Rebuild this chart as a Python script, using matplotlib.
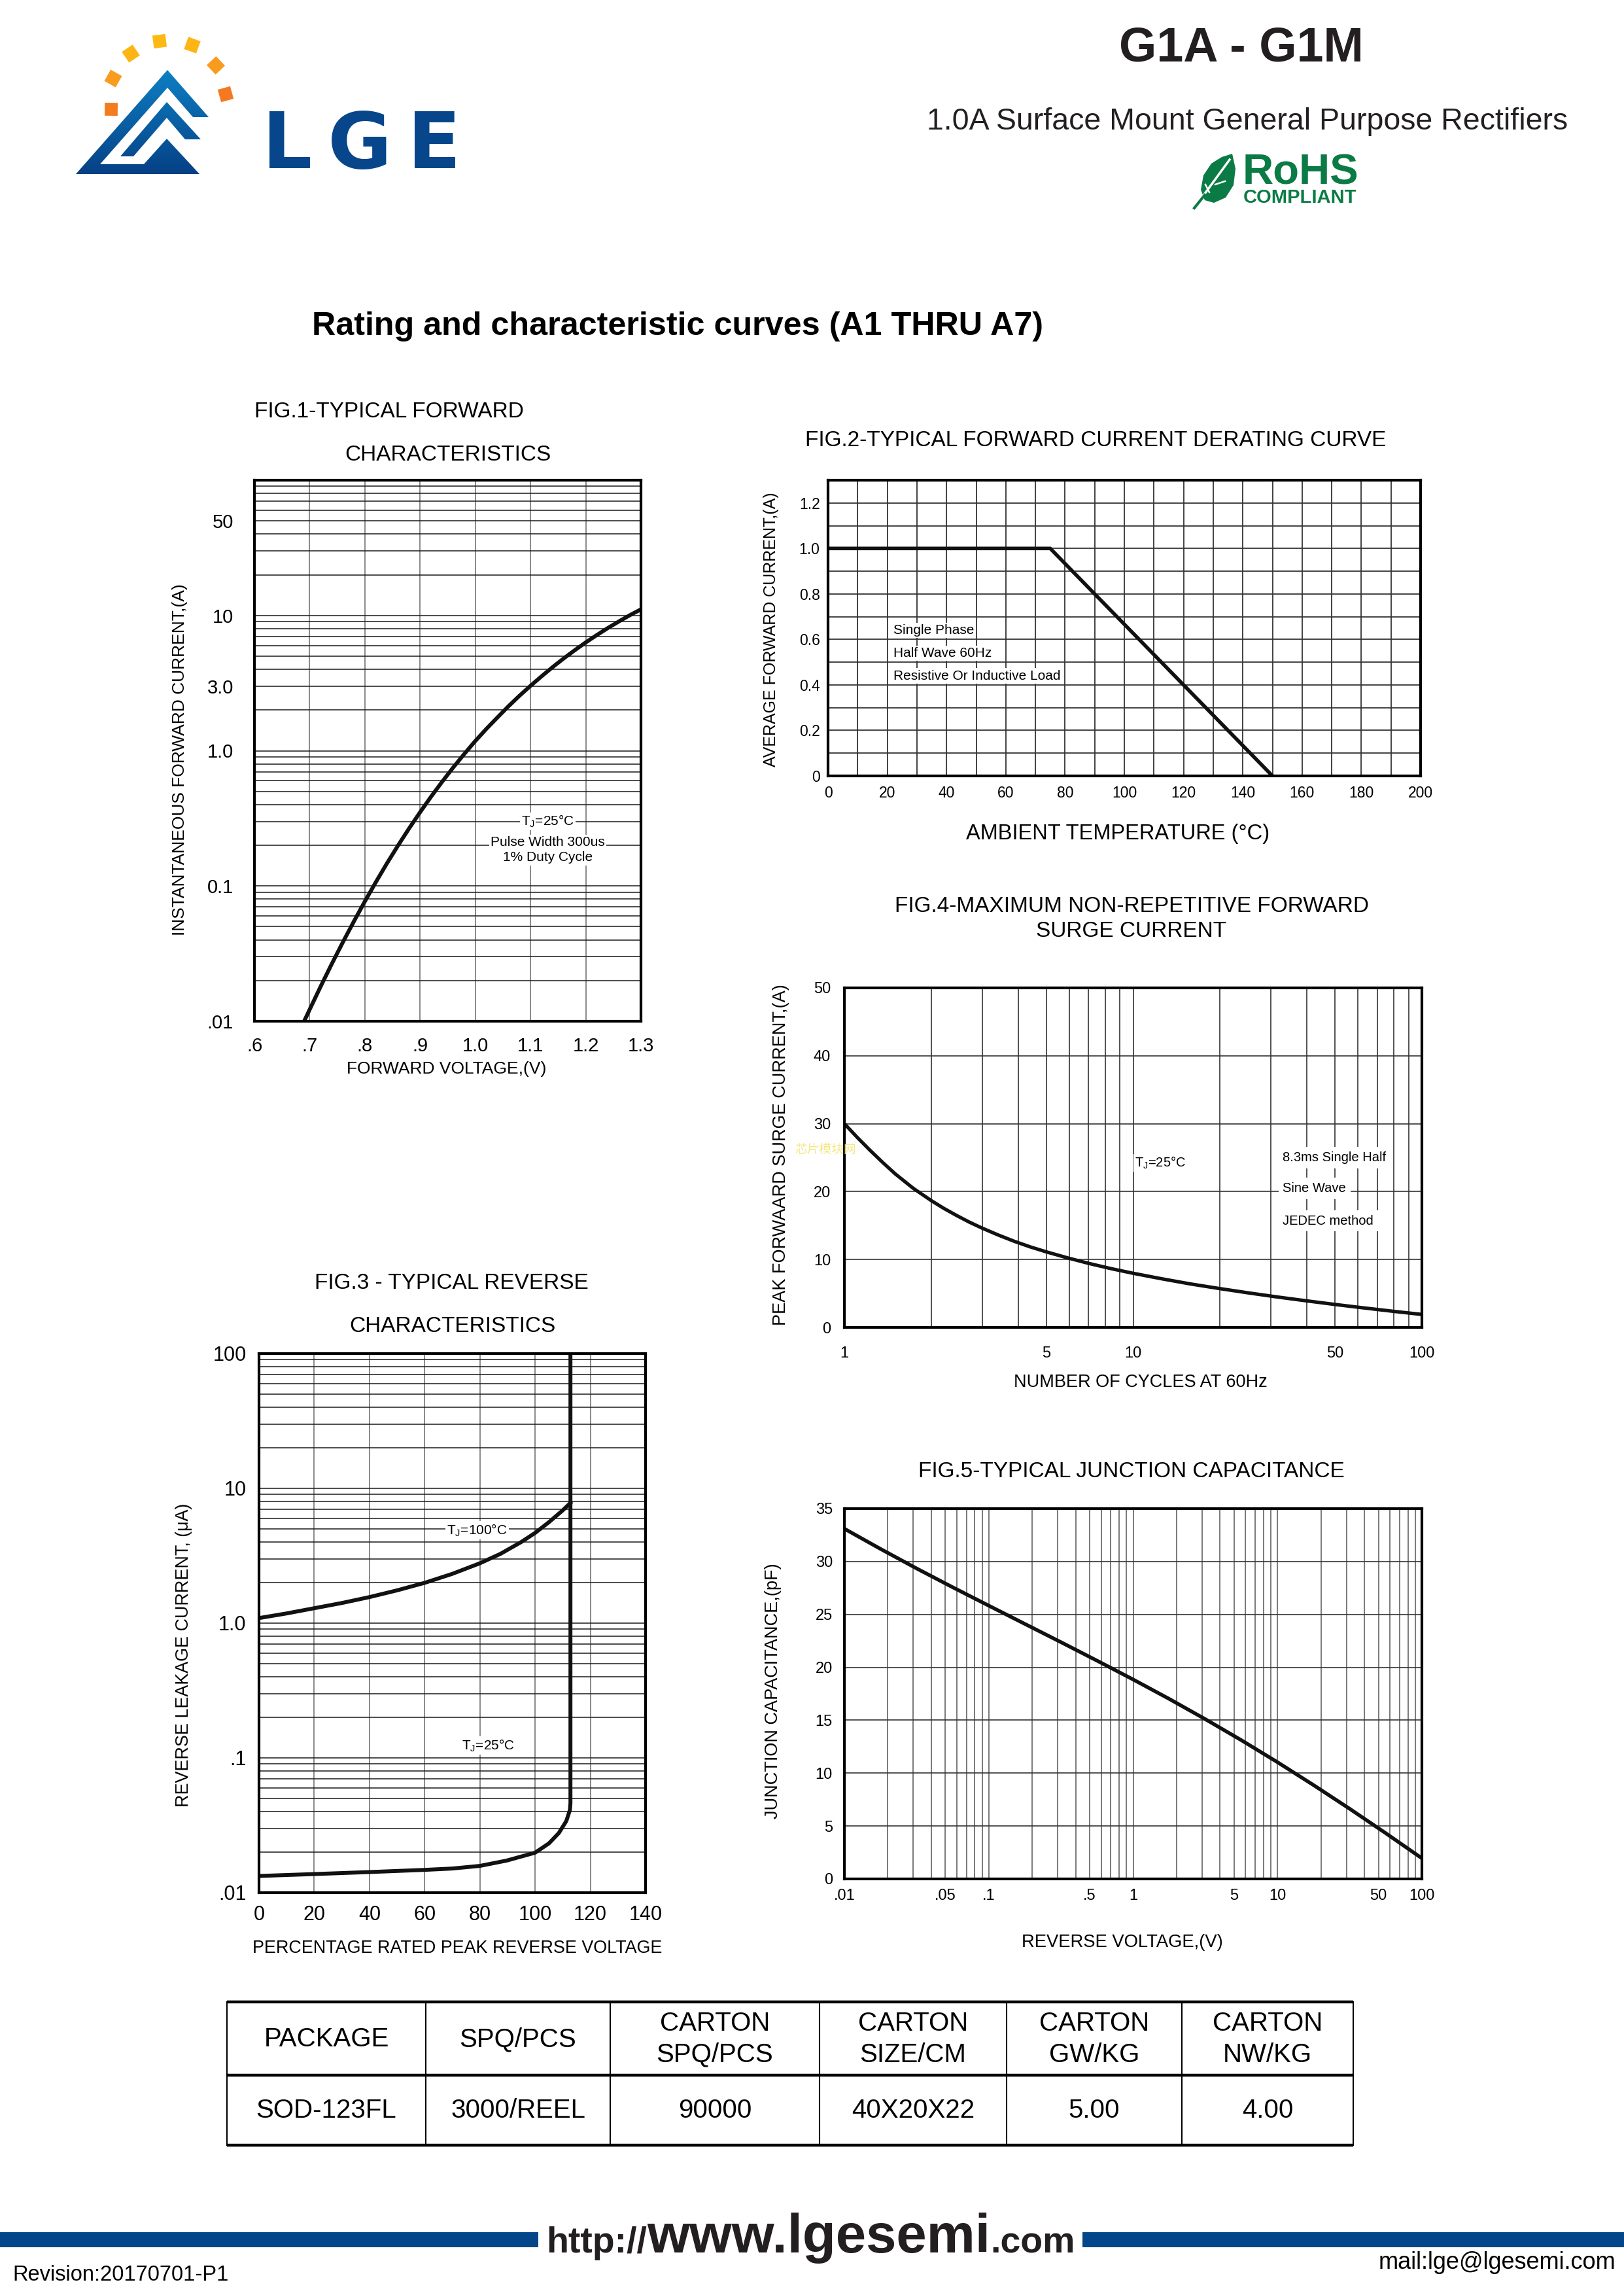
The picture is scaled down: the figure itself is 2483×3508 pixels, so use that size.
import numpy as np
import matplotlib
matplotlib.use('Agg')
import matplotlib.pyplot as plt
from matplotlib.patches import Polygon, Rectangle, RegularPolygon
from matplotlib.colors import LinearSegmentedColormap
from matplotlib.ticker import LogLocator, NullFormatter, MultipleLocator

plt.rcParams['font.family'] = ['Liberation Sans', 'DejaVu Sans']

W, H = 2483, 3508

# ---------------- data ----------------
# FIG.1 forward characteristics (V, A)
vf_volts = [0.69, 0.70, 0.72, 0.74, 0.76, 0.78, 0.80, 0.82, 0.84, 0.86, 0.88, 0.90, 0.92, 0.94, 0.96, 0.98,
            1.00, 1.02, 1.04, 1.06, 1.08, 1.10, 1.12, 1.14, 1.16, 1.18, 1.20, 1.22, 1.24, 1.26, 1.28, 1.30]
vf_amps = [0.0100, 0.0122, 0.0181, 0.0265, 0.0383, 0.0546, 0.0769, 0.107, 0.147, 0.199, 0.266, 0.351,
           0.458, 0.590, 0.752, 0.946, 1.18, 1.45, 1.76, 2.13, 2.55, 3.02, 3.55, 4.15, 4.81, 5.53,
           6.32, 7.16, 8.07, 9.03, 10.05, 11.10]
fig1_xticks = [0.6, 0.7, 0.8, 0.9, 1.0, 1.1, 1.2, 1.3]
fig1_xlabels = ['.6', '.7', '.8', '.9', '1.0', '1.1', '1.2', '1.3']
fig1_yticks = [0.01, 0.1, 1, 3, 10, 50]
fig1_ylabels = ['.01', '0.1', '1.0', '3.0', '10', '50']

# FIG.2 derating curve
derate_temp = [0, 75, 150]
derate_amps = [1.0, 1.0, 0.0]
fig2_xticks = [0, 20, 40, 60, 80, 100, 120, 140, 160, 180, 200]
fig2_yticks = [0, 0.2, 0.4, 0.6, 0.8, 1.0, 1.2]
fig2_ylabels = ['0', '0.2', '0.4', '0.6', '0.8', '1.0', '1.2']

# FIG.3 reverse characteristics (% rated voltage, uA)
rev_pct_100 = [0, 10, 20, 30, 40, 50, 60, 70, 80, 87.5, 95, 100, 105, 110, 112.8]
rev_ua_100 = [1.09, 1.18, 1.29, 1.41, 1.56, 1.75, 1.99, 2.32, 2.78, 3.27, 4.0, 4.67, 5.61, 6.87, 7.8]
rev_pct_25 = [0, 20, 40, 60, 70, 80, 89.7, 100, 105, 108.6, 111.3, 112.6, 112.8, 112.8]
rev_ua_25 = [0.0133, 0.01374, 0.01422, 0.01476, 0.0151, 0.0158, 0.0173, 0.0198, 0.0232, 0.0277,
             0.034, 0.041, 0.046, 100]
fig3_xticks = [0, 20, 40, 60, 80, 100, 120, 140]
fig3_yticks = [0.01, 0.1, 1, 10, 100]
fig3_ylabels = ['.01', '.1', '1.0', '10', '100']

# FIG.4 surge current
surge_cycles = [1, 1.11, 1.23, 1.36, 1.5, 1.73, 2, 2.21, 2.45, 2.71, 3, 3.41, 3.87, 4.4, 5, 5.94, 7.06,
                8.4, 10, 12.6, 15.8, 20, 25.2, 31.7, 39.9, 50, 63, 79.2, 100]
surge_amps = [30, 27.95, 26.04, 24.26, 22.61, 20.50, 18.67, 17.53, 16.47, 15.50, 14.62, 13.61, 12.69,
              11.86, 11.13, 10.23, 9.40, 8.65, 7.97, 7.15, 6.40, 5.71, 5.07, 4.47, 3.91, 3.38, 2.87, 2.38, 1.91]
fig4_xticks = [1, 5, 10, 50, 100]
fig4_xlabels = ['1', '5', '10', '50', '100']
fig4_yticks = [0, 10, 20, 30, 40, 50]

# FIG.5 junction capacitance
cap_volts = [0.01, 0.0178, 0.0316, 0.0562, 0.1, 0.178, 0.316, 0.562, 1, 1.78, 3.16, 5.62, 10, 17.8,
             31.6, 56.2, 100]
cap_pf = [33.1, 31.19, 29.35, 27.57, 25.83, 24.10, 22.38, 20.63, 18.85, 17.01, 15.10, 13.11, 11.03,
          8.86, 6.63, 4.32, 1.95]
fig5_xticks = [0.01, 0.05, 0.1, 0.5, 1, 5, 10, 50, 100]
fig5_xlabels = ['.01', '.05', '.1', '.5', '1', '5', '10', '50', '100']
fig5_yticks = [0, 5, 10, 15, 20, 25, 30, 35]

# packing table
table_header = ['PACKAGE', 'SPQ/PCS', 'CARTON\nSPQ/PCS', 'CARTON\nSIZE/CM', 'CARTON\nGW/KG', 'CARTON\nNW/KG']
table_row = ['SOD-123FL', '3000/REEL', '90000', '40X20X22', '5.00', '4.00']

# ---------------- page ----------------
fig = plt.figure(figsize=(W / 100, H / 100), dpi=100)
page = fig.add_axes([0, 0, 1, 1])
page.axis('off')
page.set_xlim(0, W)
page.set_ylim(H, 0)


def rect(x0, y0, x1, y1):
    return [x0 / W, 1 - y1 / H, (x1 - x0) / W, (y1 - y0) / H]


def style(ax, lw=3):
    for s in ax.spines.values():
        s.set_linewidth(lw)
        s.set_color('black')
    ax.tick_params(which='both', length=0, colors='black')
    ax.set_axisbelow(True)


def log_minor(axis):
    axis.set_minor_locator(LogLocator(base=10, subs=np.arange(1, 10), numticks=60))
    axis.set_minor_formatter(NullFormatter())


# logo: blue chevrons with a gradient, orange dots
cmap = LinearSegmentedColormap.from_list('lge', ['#0e82c6', '#063f84'])
grad = np.linspace(0, 1, 256).reshape(-1, 1)
outer = [(256, 107), (319, 179), (295, 179), (256, 134), (153, 251), (220, 251),
         (255, 212), (305, 266), (116, 266)]
middle = [(255, 156), (307, 213), (283, 213), (255, 180), (204, 239), (184, 239)]
for pts in (outer, middle):
    poly = Polygon(pts, closed=True, facecolor='none', edgecolor='none')
    page.add_patch(poly)
    im = page.imshow(grad, extent=(110, 325, 270, 100), cmap=cmap, aspect='auto', zorder=2)
    im.set_clip_path(poly)

dots = [(170, 167, '#f47b20'), (173, 120, '#f89b1f'), (200, 82, '#fdb515'), (244, 63, '#fdb813'),
        (294, 69, '#fdb515'), (330, 100, '#f89b1f'), (345, 144, '#f47920')]
for dx, dy, c in dots:
    ang = np.arctan2(dy - 168, dx - 258)
    page.add_patch(RegularPolygon((dx, dy), 4, radius=14, orientation=ang + np.pi / 4,
                                  facecolor=c, edgecolor='none'))
page.text(553, 257, 'L\u2009G\u2009E', fontsize=86, fontweight='bold', color='#07468a',
          family='DejaVu Sans', ha='center', va='baseline')

# header
page.text(1898, 74, 'G1A - G1M', fontsize=53, fontweight='bold', color='#231f20', ha='center', va='center')
page.text(1907, 186, '1.0A Surface Mount General Purpose Rectifiers', fontsize=33.5,
          color='#231f20', ha='center', va='center')

# RoHS mark
green = '#0b7b45'
leaf = [(1884, 235), (1889, 258), (1886, 283), (1874, 302), (1856, 310), (1842, 306),
        (1836, 290), (1840, 268), (1852, 250), (1868, 240)]
page.add_patch(Polygon(leaf, closed=True, facecolor=green, edgecolor='none'))
page.plot([1826, 1880], [318, 244], color='white', lw=2.5)
page.plot([1826, 1842], [318, 298], color=green, lw=3)
page.plot([1858, 1873], [282, 277], color='white', lw=1.8)
page.plot([1849, 1843], [294, 282], color='white', lw=1.8)
page.text(1900, 282, 'RoHS', fontsize=47, fontweight='bold', color=green, ha='left', va='baseline')
page.text(1901, 310, 'COMPLIANT', fontsize=21, fontweight='bold', color=green, ha='left', va='baseline')

page.text(1036, 499, 'Rating and characteristic curves (A1 THRU A7)', fontsize=36.2,
          fontweight='bold', ha='center', va='center')

note_box = dict(facecolor='white', edgecolor='none', pad=1.5)

# ---------------- FIG.1 ----------------
ax1 = fig.add_axes(rect(389, 734, 980, 1561))
style(ax1)
ax1.set_yscale('log')
ax1.set_xlim(0.6, 1.3)
ax1.set_ylim(0.01, 100)
ax1.set_xticks(fig1_xticks, fig1_xlabels)
ax1.set_yticks(fig1_yticks, fig1_ylabels)
log_minor(ax1.yaxis)
ax1.grid(True, axis='x', which='major', color='#808080', lw=1.3)
ax1.grid(True, axis='y', which='both', color='#1a1a1a', lw=1.1)
ax1.plot(vf_volts, vf_amps, color='#111', lw=4.3)
ax1.tick_params(labelsize=21)
ax1.tick_params(axis='y', pad=23)
ax1.tick_params(axis='x', pad=17)
ax1.text(1.131, 0.30, r'T$_\mathregular{J}$=25°C', fontsize=15, ha='center', va='center', bbox=note_box)
ax1.text(1.131, 0.21, 'Pulse Width 300us', fontsize=15, ha='center', va='center', bbox=note_box)
ax1.text(1.131, 0.162, '1% Duty Cycle', fontsize=15, ha='center', va='center', bbox=note_box)
page.text(389, 630, 'FIG.1-TYPICAL FORWARD', fontsize=24, ha='left', va='center')
page.text(685, 696, 'CHARACTERISTICS', fontsize=24, ha='center', va='center')
page.text(683, 1634, 'FORWARD VOLTAGE,(V)', fontsize=19, ha='center', va='center')
page.text(275, 1161, 'INSTANTANEOUS FORWARD CURRENT,(A)', fontsize=19, rotation=90, ha='center', va='center')

# ---------------- FIG.2 ----------------
ax2 = fig.add_axes(rect(1266, 734, 2172, 1186))
style(ax2)
ax2.set_xlim(0, 200)
ax2.set_ylim(0, 1.3)
ax2.set_xticks(fig2_xticks)
ax2.set_yticks(fig2_yticks, fig2_ylabels)
ax2.xaxis.set_minor_locator(MultipleLocator(10))
ax2.yaxis.set_minor_locator(MultipleLocator(0.1))
ax2.grid(True, which='both', color='#333', lw=1.3)
ax2.plot(derate_temp, derate_amps, color='#111', lw=4)
ax2.tick_params(labelsize=16.5)
ax2.tick_params(axis='y', pad=9)
ax2.tick_params(axis='x', pad=11)
for txt, yy in zip(['Single Phase', 'Half Wave 60Hz', 'Resistive Or Inductive Load'], [0.64, 0.54, 0.44]):
    ax2.text(22, yy, txt, fontsize=15, ha='left', va='center', bbox=note_box)
page.text(1675, 674, 'FIG.2-TYPICAL FORWARD CURRENT DERATING CURVE', fontsize=24, ha='center', va='center')
page.text(1709, 1274, 'AMBIENT TEMPERATURE (°C)', fontsize=23.5, ha='center', va='center')
page.text(1179, 962, 'AVERAGE FORWARD CURRENT,(A)', fontsize=18, rotation=90, ha='center', va='center')

# ---------------- FIG.4 ----------------
ax4 = fig.add_axes(rect(1291, 1510, 2174, 2029))
style(ax4)
ax4.set_xscale('log')
ax4.set_xlim(1, 100)
ax4.set_ylim(0, 50)
ax4.set_xticks(fig4_xticks, fig4_xlabels)
log_minor(ax4.xaxis)
ax4.set_yticks(fig4_yticks)
ax4.grid(True, axis='x', which='both', color='#333', lw=1.2)
ax4.grid(True, axis='y', which='major', color='#333', lw=1.2)
ax4.plot(surge_cycles, surge_amps, color='#111', lw=3.8)
ax4.tick_params(labelsize=17)
ax4.tick_params(axis='y', pad=15)
ax4.tick_params(axis='x', pad=21)
ax4.text(12.4, 24.2, r'T$_\mathregular{J}$=25°C', fontsize=14.5, ha='center', va='center', bbox=note_box)
for txt, yy in zip(['8.3ms Single Half', 'Sine Wave', 'JEDEC method'], [25.0, 20.5, 15.7]):
    ax4.text(33, yy, txt, fontsize=14.5, ha='left', va='center', bbox=dict(facecolor='white', edgecolor='none', pad=5))
page.text(1730, 1385, 'FIG.4-MAXIMUM NON-REPETITIVE FORWARD', fontsize=24, ha='center', va='center')
page.text(1730, 1423, 'SURGE CURRENT', fontsize=24, ha='center', va='center')
page.text(1744, 2113, 'NUMBER OF CYCLES AT 60Hz', fontsize=19.5, ha='center', va='center')
page.text(1194, 1765, 'PEAK FORWAARD SURGE CURRENT,(A)', fontsize=19.5, rotation=90, ha='center', va='center')

# ---------------- FIG.3 ----------------
ax3 = fig.add_axes(rect(396, 2069, 987, 2893))
style(ax3)
ax3.set_yscale('log')
ax3.set_xlim(0, 140)
ax3.set_ylim(0.01, 100)
ax3.set_xticks(fig3_xticks)
ax3.set_yticks(fig3_yticks, fig3_ylabels)
log_minor(ax3.yaxis)
ax3.grid(True, axis='x', which='major', color='#808080', lw=1.3)
ax3.grid(True, axis='y', which='both', color='#1a1a1a', lw=1.1)
ax3.plot(rev_pct_100, rev_ua_100, color='#111', lw=4.3)
ax3.plot(rev_pct_25, rev_ua_25, color='#111', lw=4.3)
ax3.tick_params(labelsize=22)
ax3.tick_params(axis='y', pad=14)
ax3.tick_params(axis='x', pad=14)
ax3.text(79, 4.9, r'T$_\mathregular{J}$=100°C', fontsize=15, ha='center', va='center', bbox=note_box)
ax3.text(83, 0.124, r'T$_\mathregular{J}$=25°C', fontsize=15, ha='center', va='center', bbox=note_box)
page.text(690, 1962, 'FIG.3 - TYPICAL REVERSE', fontsize=24, ha='center', va='center')
page.text(692, 2027, 'CHARACTERISTICS', fontsize=24, ha='center', va='center')
page.text(699, 2978, 'PERCENTAGE RATED PEAK REVERSE VOLTAGE', fontsize=19.4, ha='center', va='center')
page.text(281, 2530, 'REVERSE LEAKAGE CURRENT, (μA)', fontsize=19.4, rotation=90, ha='center', va='center')

# ---------------- FIG.5 ----------------
ax5 = fig.add_axes(rect(1291, 2306, 2174, 2872))
style(ax5)
ax5.set_xscale('log')
ax5.set_xlim(0.01, 100)
ax5.set_ylim(0, 35)
ax5.set_xticks(fig5_xticks, fig5_xlabels)
log_minor(ax5.xaxis)
ax5.set_yticks(fig5_yticks)
ax5.grid(True, axis='x', which='both', color='#555', lw=1.1)
ax5.grid(True, axis='y', which='major', color='#333', lw=1.2)
ax5.plot(cap_volts, cap_pf, color='#111', lw=4)
ax5.tick_params(labelsize=17)
ax5.tick_params(axis='y', pad=13)
ax5.tick_params(axis='x', pad=11)
page.text(1730, 2249, 'FIG.5-TYPICAL JUNCTION CAPACITANCE', fontsize=24, ha='center', va='center')
page.text(1716, 2969, 'REVERSE VOLTAGE,(V)', fontsize=19.7, ha='center', va='center')
page.text(1182, 2585, 'JUNCTION CAPACITANCE,(pF)', fontsize=19.5, rotation=90, ha='center', va='center')

# watermark sitting over fig.4 (nudged clear of the y label)
fig.text(1262 / W, 1 - 1757 / H, '芯片模块网', fontsize=13.5, color='#f1e46e', alpha=0.85,
         family=['Noto Sans CJK SC', 'DejaVu Sans'], ha='center', va='center', zorder=10)

# ---------------- packing table ----------------
col_x = [347, 651, 933, 1253, 1539, 1807, 2069]
row_y = [3060, 3172, 3279]
for yy in row_y:
    page.plot([col_x[0], col_x[-1]], [yy, yy], color='black', lw=3.2, solid_capstyle='butt')
for xx in col_x:
    page.plot([xx, xx], [row_y[0], row_y[-1]], color='black', lw=1.5)
for i in range(len(table_header)):
    cx = (col_x[i] + col_x[i + 1]) / 2
    page.text(cx, 3117, table_header[i], fontsize=29, ha='center', va='center',
              multialignment='center', linespacing=1.3)
    page.text(cx, 3226, table_row[i], fontsize=29, ha='center', va='center')

# ---------------- footer ----------------
blue = '#03468a'
page.add_patch(Rectangle((0, 3412), 823, 23, facecolor=blue, edgecolor='none'))
page.add_patch(Rectangle((1655, 3412), W - 1655, 23, facecolor=blue, edgecolor='none'))
r = fig.canvas.get_renderer()
x = 835
for s, fs in [('http://', 40), ('www.lgesemi', 60), ('.com', 40)]:
    t = page.text(x, 3443, s, fontsize=fs, fontweight='bold', color='#231f20', ha='left', va='baseline')
    bb = t.get_window_extent(renderer=r)
    x = page.transData.inverted().transform((bb.x1, bb.y0))[0]
page.text(19, 3486, 'Revision:20170701-P1', fontsize=23.5, ha='left', va='baseline')
page.text(2470, 3468, 'mail:lge@lgesemi.com', fontsize=26, ha='right', va='baseline')

page.set_xlim(0, W)
page.set_ylim(H, 0)
fig.savefig('out.png', dpi=100)
